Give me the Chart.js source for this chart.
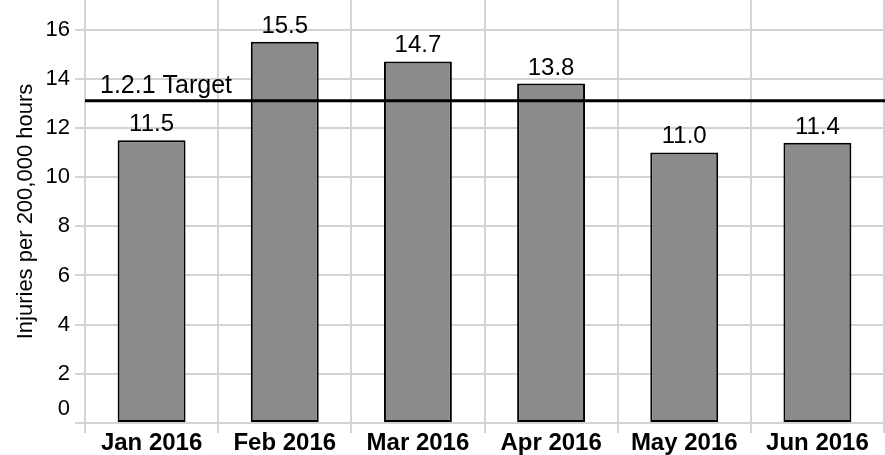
<!DOCTYPE html>
<html>
<head>
<meta charset="utf-8">
<script src="https://cdn.jsdelivr.net/npm/chart.js@4.4.0/dist/chart.umd.min.js"></script>
<style>
  html, body { margin: 0; padding: 0; background: #fff; }
</style>
</head>
<body>
<canvas id="chart" width="885" height="455"></canvas>
<script>
// Monthly injury rate data
const months = ['Jan 2016', 'Feb 2016', 'Mar 2016', 'Apr 2016', 'May 2016', 'Jun 2016'];
const injuryRates = [11.5, 15.5, 14.7, 13.8, 11.0, 11.4];
const targetRate = 13.1;
const targetLabel = '1.2.1 Target';
const yTickValues = [0, 2, 4, 6, 8, 10, 12, 14, 16];
const yMax = 17.2;

const FONT = "'Liberation Sans', Arial, sans-serif";
const gridGray = '#d3d3d3';

// draws target line, value labels and the shifted "0" label
const overlayPlugin = {
  id: 'overlay',
  afterDatasetsDraw(chart) {
    const ctx = chart.ctx;
    const area = chart.chartArea;
    const y = chart.scales.y;

    ctx.save();
    // target line
    const ty = y.getPixelForValue(targetRate);
    ctx.strokeStyle = '#000';
    ctx.lineWidth = 3;
    ctx.beginPath();
    ctx.moveTo(area.left, ty);
    ctx.lineTo(chart.width, ty);
    ctx.stroke();

    ctx.fillStyle = '#000';
    ctx.font = '25px ' + FONT;
    ctx.textAlign = 'left';
    ctx.textBaseline = 'alphabetic';
    ctx.fillText(targetLabel, 100, ty - 8);

    // bar value labels
    ctx.font = '24px ' + FONT;
    ctx.textAlign = 'center';
    const meta = chart.getDatasetMeta(0);
    meta.data.forEach((bar, i) => {
      ctx.fillText(injuryRates[i].toFixed(1), bar.x, bar.y - 9);
    });

    // zero label sits above its grid line
    ctx.font = '22px ' + FONT;
    ctx.textAlign = 'right';
    ctx.textBaseline = 'middle';
    ctx.fillText('0', area.left - 15, y.getPixelForValue(0) - 14);
    ctx.restore();
  }
};

const ctx = document.getElementById('chart').getContext('2d');
const chart = new Chart(ctx, {
  type: 'bar',
  data: {
    labels: months,
    datasets: [{
      data: injuryRates,
      backgroundColor: '#8a8b8a',
      borderColor: '#000',
      borderWidth: 2,
      borderSkipped: false,
      barPercentage: 0.51,
      categoryPercentage: 1
    }]
  },
  options: {
    responsive: false,
    animation: false,
    devicePixelRatio: 1,
    layout: { padding: { top: 0, right: 1, bottom: 0, left: 0 } },
    plugins: {
      legend: { display: false },
      tooltip: { enabled: false }
    },
    scales: {
      x: {
        grid: { color: gridGray, lineWidth: 2, offset: true, tickLength: 10 },
        border: { color: gridGray, width: 2 },
        ticks: {
          color: '#000',
          padding: -4,
          font: { family: FONT, size: 24, weight: 'bold' },
          maxRotation: 0
        },
        afterFit(scale) {
          scale.height = 32;
          scale.paddingLeft = 0;
          scale.paddingRight = 0;
        }
      },
      y: {
        min: 0,
        max: yMax,
        grid: { color: gridGray, lineWidth: 2, tickLength: 10 },
        border: { color: gridGray, width: 2 },
        afterBuildTicks(scale) {
          scale.ticks = yTickValues.map(v => ({ value: v }));
        },
        ticks: {
          color: '#000',
          padding: 5,
          font: { family: FONT, size: 22 },
          callback: v => (v === 0 ? '' : v)
        },
        title: {
          display: true,
          text: 'Injuries per 200,000 hours',
          color: '#000',
          font: { family: FONT, size: 22 },
          padding: { top: 13, bottom: 0 }
        },
        afterFit(scale) {
          scale.width = 85;
          scale.paddingTop = 0;
          scale.paddingBottom = 0;
        }
      }
    }
  },
  plugins: [overlayPlugin]
});
</script>
</body>
</html>
